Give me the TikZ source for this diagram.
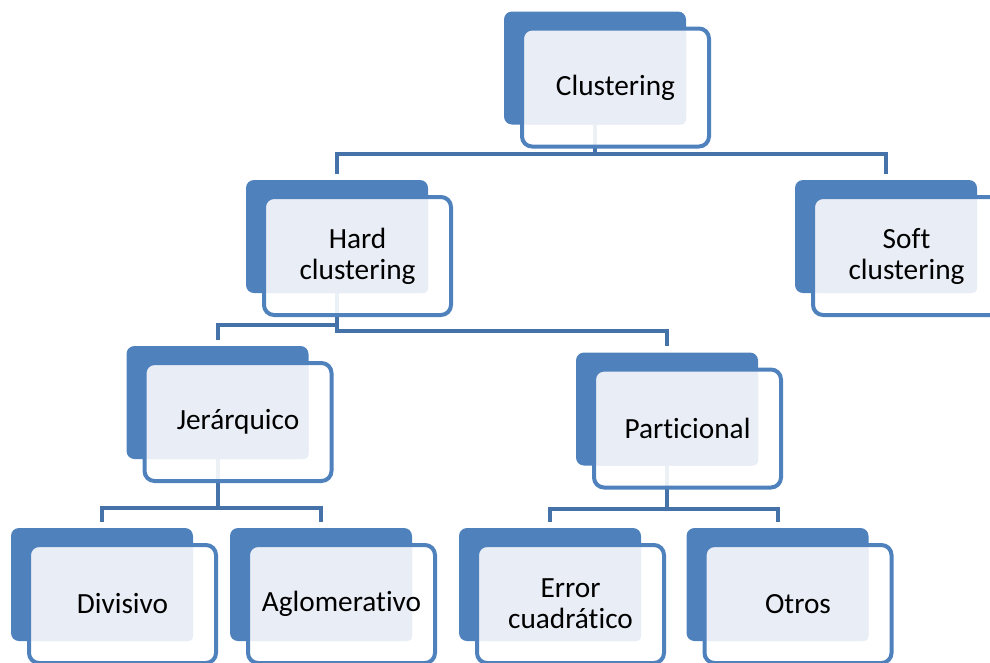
\documentclass[tikz,border=0pt]{standalone}
\usepackage{fontspec}
\setmainfont{Carlito}[Ligatures=NoCommon]
\usetikzlibrary{backgrounds}

\definecolor{boxblue}{RGB}{79,129,189}
\definecolor{linkblue}{RGB}{68,114,169}
\definecolor{boxlight}{RGB}{233,237,245}

\begin{document}
\begin{tikzpicture}[x=1pt, y=-1pt,
    backbox/.style={rectangle, rounded corners=8pt, fill=boxblue, inner sep=0pt,
        minimum width=182pt, minimum height=113pt},
    frontbox/.style={rectangle, rounded corners=10pt, draw=boxblue, line width=4pt,
        fill=white, fill opacity=0.9, text opacity=1, align=center,
        minimum width=187pt, minimum height=118pt,
        font=\fontsize{29.3}{31}\selectfont},
    link/.style={draw=linkblue, line width=4pt, shorten >=6pt}]
    \useasboundingbox (0,0) rectangle (990,662);

    % boxes: back plate, then the framed text box
    \foreach \n/\x/\y/\t in {clus/615.5/87.5/Clustering,
            hard/357.5/256/{Hard\\clustering}, soft/906.5/256/{Soft\\clustering},
            jer/238/422/Jerárquico, part/687.5/428.5/Particional,
            div/122.5/604/Divisivo, aglo/341.5/604/Aglomerativo,
            err/570.5/604/{Error\\cuadrático}, otros/798/604/Otros} {
        \node[backbox] (\n-bg) at (\x-20.5,\y-19.5) {};
        \node[frontbox, path picture={
            \fill[boxlight, fill opacity=1, rounded corners=5pt]
                (path picture bounding box.north west) rectangle (\n-bg.south east);
        }] (\n) at (\x,\y) {\t};
    }

    \begin{scope}[on background layer]
        \draw[link] (clus-bg.south) -- (clus-bg.south |- 0,154) -| (hard-bg.north);
        \draw[link] (clus-bg.south) -- (clus-bg.south |- 0,154) -| (soft-bg.north);
        \draw[link] (hard-bg.south) -- (hard-bg.south |- 0,325) -| (jer-bg.north);
        \draw[link] (hard-bg.south) -- (hard-bg.south |- 0,331) -| (part-bg.north);
        \draw[link] (jer-bg.south) -- (jer-bg.south |- 0,508) -| (div-bg.north);
        \draw[link] (jer-bg.south) -- (jer-bg.south |- 0,508) -| (aglo-bg.north);
        \draw[link] (part-bg.south) -- (part-bg.south |- 0,509) -| (err-bg.north);
        \draw[link] (part-bg.south) -- (part-bg.south |- 0,509) -| (otros-bg.north);
    \end{scope}
\end{tikzpicture}
\end{document}
